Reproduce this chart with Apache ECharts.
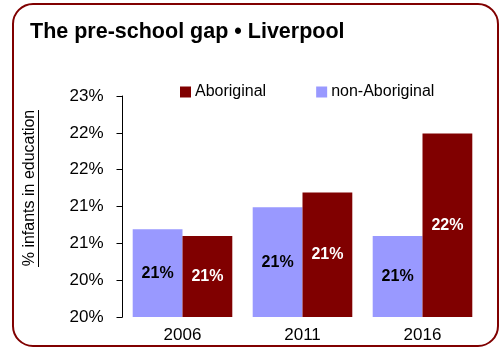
<!DOCTYPE html>
<html>
<head>
<meta charset="utf-8">
<script src="https://cdn.jsdelivr.net/npm/echarts@6/dist/echarts.min.js"></script>
<style>
  html, body { margin: 0; padding: 0; background: #fff; }
  #chart { width: 499px; height: 348px; }
</style>
</head>
<body>
<div id="chart"></div>
<script>
// Census years and share of infants in pre-school education (%)
const years = ['2006', '2011', '2016'];
const nonAboriginal = [21.19, 21.49, 21.10];
const aboriginal = [21.10, 21.69, 22.49];
const legendNames = ['Aboriginal', 'non-Aboriginal'];

const FONT = 'Liberation Sans, Arial, Helvetica, sans-serif';
const DARK_RED = '#800000';
const LAVENDER = '#9999FF';

// Percent labels are shown as whole numbers, truncated
const pct = v => Math.floor(v + 1e-9) + '%';

const chart = echarts.init(document.getElementById('chart'), null, { renderer: 'canvas' });

chart.setOption({
  animation: false,
  backgroundColor: '#fff',
  title: {
    text: 'The pre-school gap • Liverpool',
    left: 25,
    top: 16,
    textStyle: { fontFamily: FONT, fontWeight: 'bold', fontSize: 21.5, color: '#000' }
  },
  legend: {
    data: legendNames,
    left: 180,
    top: 84,
    padding: 0,
    icon: 'rect',
    itemWidth: 11,
    itemHeight: 11,
    itemGap: 50,
    textStyle: { fontFamily: FONT, fontSize: 16, color: '#000', padding: [0, 0, 0, -1] }
  },
  grid: { left: 122.5, right: 16.5, top: 96, bottom: 31, containLabel: false },
  xAxis: {
    type: 'category',
    data: years,
    axisLine: { show: false },
    axisTick: { show: false },
    axisLabel: { fontFamily: FONT, fontSize: 17, color: '#000', margin: 10 }
  },
  yAxis: {
    type: 'value',
    min: 20,
    max: 23,
    interval: 0.5,
    splitLine: { show: false },
    axisLine: { show: true, lineStyle: { color: '#000', width: 1 } },
    axisTick: { show: true, inside: false, length: 6, lineStyle: { color: '#000' } },
    axisLabel: {
      fontFamily: FONT, fontSize: 17, color: '#000', margin: 19,
      formatter: pct
    }
  },
  series: [
    {
      name: 'non-Aboriginal',
      type: 'bar',
      data: nonAboriginal,
      barGap: '0%',
      barCategoryGap: '17%',
      itemStyle: { color: LAVENDER },
      label: {
        show: true, position: 'inside',
        fontFamily: FONT, fontWeight: 'bold', fontSize: 16, color: '#000',
        formatter: p => pct(p.value)
      }
    },
    {
      name: 'Aboriginal',
      type: 'bar',
      data: aboriginal,
      barGap: '0%',
      barCategoryGap: '17%',
      itemStyle: { color: DARK_RED },
      label: {
        show: true, position: 'inside',
        fontFamily: FONT, fontWeight: 'bold', fontSize: 16, color: '#fff',
        formatter: p => pct(p.value)
      }
    }
  ],
  graphic: [
    {
      // rounded frame around the chart
      type: 'rect',
      silent: true,
      shape: { x: 13, y: 4, width: 485, height: 342, r: 20 },
      style: { fill: 'none', stroke: DARK_RED, lineWidth: 2 }
    },
    {
      // vertical axis title, underlined
      type: 'group',
      x: 30,
      y: 188,
      rotation: Math.PI / 2,
      children: [
        {
          type: 'text',
          style: {
            text: '% infants in education',
            fontFamily: FONT, fontSize: 16, fill: '#000',
            align: 'center', verticalAlign: 'middle'
          }
        },
        {
          type: 'line',
          shape: { x1: -79, y1: 8.5, x2: 78, y2: 8.5 },
          style: { stroke: '#000', lineWidth: 1 }
        }
      ]
    }
  ]
});
</script>
</body>
</html>
